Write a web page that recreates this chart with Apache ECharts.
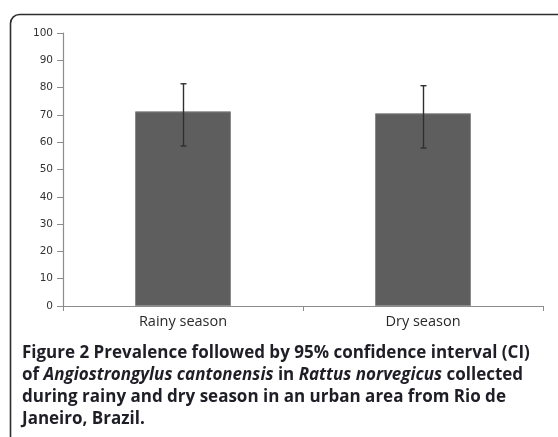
<!DOCTYPE html>
<html>
<head>
<meta charset="utf-8">
<script src="https://cdn.jsdelivr.net/npm/echarts@6/dist/echarts.min.js"></script>
<style>
  html, body { margin: 0; padding: 0; background: #fff; }
  #chart { width: 558px; height: 437px; }
</style>
</head>
<body>
<div id="chart"></div>
<script>
// Prevalence (%) of infection by season, with 95% confidence limits
const seasons = ['Rainy season', 'Dry season'];
const prevalence = [71.3, 70.6];
const ciLower = [58.6, 57.9];
const ciUpper = [81.4, 80.7];
const yTicks = { min: 0, max: 100, step: 10 };

const captionLines = [
  '{b|Figure 2 Prevalence followed by 95% confidence interval (CI)}',
  '{b|of }{i|Angiostrongylus cantonensis}{b| in }{i|Rattus norvegicus}{b| collected}',
  '{b|during rainy and dry season in an urban area from Rio de}',
  '{b|Janeiro, Brazil.}'
];

const chart = echarts.init(document.getElementById('chart'), null, { renderer: 'canvas' });

const capFont = '"Open Sans", "Noto Sans", sans-serif';
const rich = {
  b: { fontFamily: capFont, fontWeight: 'bold', fontSize: 17, fill: '#1e1e26' },
  i: { fontFamily: capFont, fontWeight: 'bold', fontStyle: 'italic', fontSize: 17, fill: '#1e1e26' }
};

const graphics = [
  {
    type: 'rect',
    shape: { x: 10.5, y: 14.5, width: 620, height: 520, r: 9 },
    style: { fill: 'none', stroke: '#2e2e2e', lineWidth: 1.6 },
    silent: true,
    z: -1
  }
];
captionLines.forEach((t, k) => {
  graphics.push({
    type: 'text',
    x: 22,
    y: 362 + k * 22,
    style: { text: t, rich: rich, verticalAlign: 'bottom', fill: '#1e1e26' },
    silent: true
  });
});

chart.setOption({
  animation: false,
  grid: { left: 63, right: 15, top: 33, bottom: 131 },
  xAxis: {
    type: 'category',
    data: seasons,
    axisLine: { lineStyle: { color: '#8c8c8c', width: 1.2 } },
    axisTick: { show: true, length: 5, lineStyle: { color: '#8c8c8c' } },
    axisLabel: { color: '#2a2a2a', fontFamily: '"Open Sans", Lato, sans-serif', fontSize: 14.5, margin: 8 }
  },
  yAxis: {
    type: 'value',
    min: yTicks.min,
    max: yTicks.max,
    interval: yTicks.step,
    axisLine: { show: true, lineStyle: { color: '#8c8c8c', width: 1.2 } },
    axisTick: { show: true, length: 6, lineStyle: { color: '#8c8c8c' } },
    splitLine: { show: false },
    axisLabel: { color: '#333', fontFamily: '"DejaVu Sans", sans-serif', fontSize: 10.5, margin: 10 }
  },
  series: [
    {
      type: 'bar',
      data: prevalence,
      barWidth: 96,
      itemStyle: { color: '#5e5e5e', borderColor: '#8a8a8a', borderWidth: 1 }
    },
    {
      type: 'custom',
      data: seasons.map((s, i) => [i, ciLower[i], ciUpper[i]]),
      z: 5,
      renderItem: function (params, api) {
        const lo = api.coord([api.value(0), api.value(1)]);
        const hi = api.coord([api.value(0), api.value(2)]);
        const x = Math.round(lo[0]) + 0.5;
        const cap = 3;
        const st = { stroke: '#2f2f2f', lineWidth: 1.4 };
        return {
          type: 'group',
          children: [
            { type: 'line', shape: { x1: x, y1: hi[1], x2: x, y2: lo[1] }, style: st },
            { type: 'line', shape: { x1: x - cap, y1: hi[1], x2: x + cap, y2: hi[1] }, style: st },
            { type: 'line', shape: { x1: x - cap, y1: lo[1], x2: x + cap, y2: lo[1] }, style: st }
          ]
        };
      }
    }
  ],
  graphic: graphics
});
</script>
</body>
</html>
